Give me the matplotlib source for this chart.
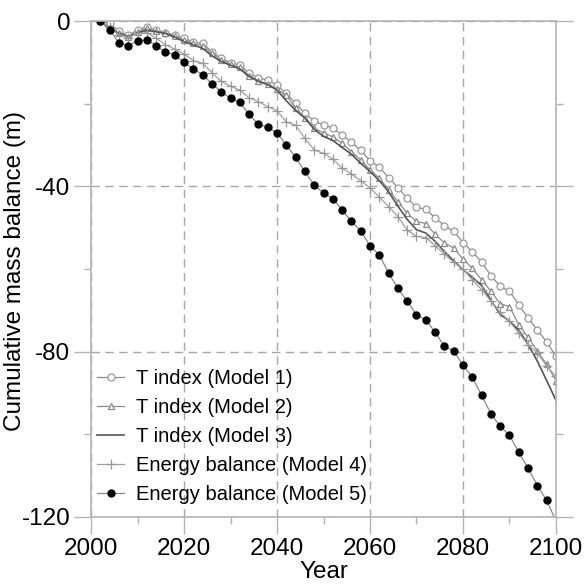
import matplotlib
matplotlib.use("Agg")
import matplotlib.pyplot as plt
import numpy as np

plt.rcParams['font.family'] = ['Liberation Sans', 'DejaVu Sans']

# years with a value (every 2 years)
years = list(range(2002, 2101, 2))

model1 = [0, -0.6, -2.5, -3.4, -2.2, -1.4, -2.2, -2.8, -3.4, -4.2,
          -5.0, -5.4, -7.4, -9.0, -10.1, -10.6, -12.6, -13.8, -14.3, -15.5,
          -17.5, -19.9, -22.3, -24.3, -25.1, -25.9, -27.6, -29.3, -31.3, -33.8,
          -35.4, -37.9, -40.3, -42.9, -45.0, -45.6, -47.6, -49.5, -50.9, -53.6,
          -55.8, -58.3, -61.6, -64.2, -65.4, -68.6, -71.9, -74.7, -77.7, -81.1]
model2 = [0, -1.5, -3.0, -3.8, -2.6, -1.8, -2.5, -3.0, -3.6, -4.6,
          -5.4, -6.0, -7.8, -9.4, -10.5, -11.2, -13.2, -14.5, -15.2, -16.5,
          -17.9, -21.1, -23.5, -25.9, -27.1, -28.0, -29.6, -31.6, -33.6, -36.0,
          -38.0, -40.8, -43.7, -46.5, -48.5, -49.0, -51.6, -53.7, -54.9, -57.6,
          -59.8, -62.6, -65.4, -68.4, -69.1, -73.5, -76.5, -79.9, -83.1, -87.0]
model3 = [0, -1.8, -3.0, -3.8, -2.9, -2.2, -2.6, -3.0, -3.9, -5.0,
          -5.8, -6.6, -8.4, -9.8, -10.7, -11.6, -13.4, -14.6, -15.4, -16.7,
          -19.3, -21.6, -23.5, -26.2, -27.9, -28.9, -30.6, -32.2, -34.4, -36.4,
          -38.6, -41.3, -44.8, -48.0, -50.5, -51.3, -53.3, -55.8, -58.0, -60.2,
          -62.0, -64.0, -67.5, -71.0, -72.6, -74.8, -78.3, -82.3, -87.0, -91.8]
model4 = [0, -1.5, -3.3, -4.0, -3.0, -2.8, -4.2, -5.7, -6.8, -8.0,
          -9.6, -10.2, -12.5, -14.6, -15.8, -16.7, -18.6, -19.5, -20.7, -21.7,
          -24.4, -25.2, -28.4, -31.2, -32.0, -33.4, -35.6, -37.0, -38.6, -40.4,
          -42.6, -44.9, -47.3, -50.6, -52.1, -52.4, -54.4, -56.4, -58.4, -60.0,
          -62.6, -65.0, -67.8, -70.5, -72.7, -75.5, -78.3, -80.3, -83.5, -86.0]
model5 = [0, -2.2, -5.2, -6.0, -4.8, -4.6, -6.0, -7.5, -8.2, -10.0,
          -11.6, -13.0, -15.2, -17.1, -18.7, -19.7, -22.6, -25.0, -25.7, -27.1,
          -30.0, -33.0, -36.4, -39.7, -41.6, -43.0, -45.7, -48.5, -50.8, -54.4,
          -56.6, -61.0, -64.7, -67.8, -71.1, -72.3, -75.3, -78.7, -79.8, -83.3,
          -86.1, -90.6, -95.0, -98.1, -100.2, -104.4, -108.2, -112.4, -116.0, -121.0]

labels = ['T index (Model 1)', 'T index (Model 2)', 'T index (Model 3)',
          'Energy balance (Model 4)', 'Energy balance (Model 5)']

x_ticks = [2000, 2020, 2040, 2060, 2080, 2100]
y_ticks = [0, -40, -80, -120]

fig = plt.figure(figsize=(5.85, 5.87), dpi=100)
ax = fig.add_axes([0.1556, 0.1193, 0.7948, 0.8449])

lc = '#8c8c8c'
ax.plot(years, model1, color=lc, lw=0.9, marker='o', ms=5, mfc='white', mec='#999999', mew=0.9, label=labels[0])
ax.plot(years, model2, color=lc, lw=0.9, marker='^', ms=4.5, mfc='white', mec='#888888', mew=0.9, label=labels[1])
ax.plot(years, model3, color='#555555', lw=1.2, label=labels[2])
ax.plot(years, model4, color='#a0a0a0', lw=0.9, marker='+', ms=7, mec='#999999', mew=0.9, label=labels[3])
ax.plot(years, model5, color='#888888', lw=0.9, marker='o', ms=5, mfc='black', mec='black', label=labels[4])

ax.set_xlim(2000, 2100)
ax.set_ylim(-120, 0)
ax.set_xticks(x_ticks)
ax.set_xticklabels([str(v) for v in x_ticks])
ax.set_yticks(y_ticks)
ax.set_yticklabels([str(v) for v in y_ticks])
ax.set_xticks(np.arange(2010, 2100, 20), minor=True)
ax.set_yticks([-20, -60, -100], minor=True)

ax.grid(True, which='major', color='#a8a8a8', linestyle=(0, (6, 4)), linewidth=1.0)
for s in ax.spines.values():
    s.set_color('#b4b4b4')
    s.set_linewidth(1.2)
ax.tick_params(which='major', direction='out', length=12, width=1.0, color='#b4b4b4',
               labelsize=17.5, pad=3, left=True, right=True, bottom=True, top=False)
ax.tick_params(which='minor', direction='out', length=5, width=1.0, color='#b4b4b4',
               left=True, right=True, bottom=True, top=False)

ax.set_xlabel('Year', fontsize=17.5, labelpad=1)
ax.set_ylabel('Cumulative mass balance (m)', fontsize=17.5)
ax.yaxis.set_label_coords(-0.14, 0.496)

leg = ax.legend(loc='upper left', bbox_to_anchor=(97 / 585, 1 - 369 / 587),
                bbox_transform=fig.transFigure, frameon=False, fontsize=14.5,
                handlelength=1.35, handletextpad=0.6, labelspacing=0.5,
                borderpad=0, borderaxespad=0)

fig.savefig('out.png', dpi=100)
